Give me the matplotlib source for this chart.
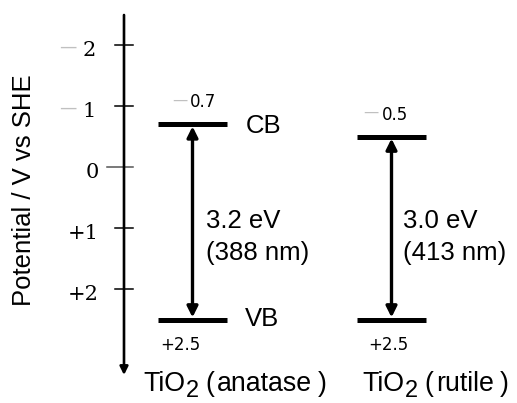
import matplotlib
matplotlib.use("Agg")
import matplotlib.pyplot as plt

# dati
phases = ["anatase", "rutile"]
cb_pot = [-0.7, -0.5]          # V vs SHE
vb_pot = [2.5, 2.5]
gap_ev = [3.2, 3.0]
gap_nm = [388, 413]
ticks = [-2, -1, 0, 1, 2]
tick_labels = ["2", "1", "0", "+1", "+2"]

# impaginazione (pixel)
bar_left = [158, 357]
bar_w = 69
cb_dash_x = [172, 363]
cb_num_x = [190, 382]
vb_num_x = [160, 368]
gap_x = [206, 403]
name_x = [143, 362]

SANS = ["Liberation Sans", "DejaVu Sans"]
PX = 61.0      # pixel per volt
Y0 = 167.0     # pixel dello zero
FS_NAME = 19.3


def dv(px):
    """offset in pixel -> volt"""
    return px / PX


fig = plt.figure(figsize=(5.17, 4.03), dpi=100)
ax = fig.add_axes([0, 0, 1, 1])
ax.set_xlim(0, 517)
ax.set_ylim((403 - Y0) / PX, -Y0 / PX)
ax.axis("off")


def width(txt):
    fig.canvas.draw()
    return txt.get_window_extent().width


# asse verticale con freccia
ax.annotate("", xy=(124, dv(375 - Y0)), xytext=(124, dv(15 - Y0)),
            arrowprops=dict(arrowstyle="-|>", color="black", lw=1.9,
                            mutation_scale=12, shrinkA=0, shrinkB=0))
for t, lab in zip(ticks, tick_labels):
    x0 = 107 if t == 0 else 115
    ax.plot([x0, 133], [t, t], color="black" if t != 0 else "#555555",
            lw=1.1)
    if t < 0:
        ax.text(77, t + dv(7), "—", ha="right", va="baseline",
                color="#c0c0c0", fontsize=12.5, family="DejaVu Sans")
        ax.text(96, t + dv(11), lab, ha="right", va="baseline",
                fontsize=15, family="DejaVu Serif")
    else:
        ax.text(99, t + dv(11), lab, ha="right", va="baseline",
                fontsize=15, family="DejaVu Serif")

ax.text(24, dv(190 - Y0), "Potential / V vs SHE", rotation=90, ha="center",
        va="center", fontsize=18.5, family=SANS)

for i, ph in enumerate(phases):
    xl = bar_left[i]
    xc = xl + bar_w / 2
    ax.plot([xl, xl + bar_w], [cb_pot[i], cb_pot[i]], color="black",
            lw=3.6, solid_capstyle="butt")
    ax.plot([xl, xl + bar_w], [vb_pot[i], vb_pot[i]], color="black",
            lw=3.6, solid_capstyle="butt")
    ax.annotate("", xy=(xc, vb_pot[i]), xytext=(xc, cb_pot[i]),
                arrowprops=dict(arrowstyle="<|-|>", color="black", lw=2.4,
                                mutation_scale=16, shrinkA=1.5,
                                shrinkB=1.5))
    # valori dei livelli
    ax.text(cb_dash_x[i], cb_pot[i] - dv(20), "—", ha="left",
            va="baseline", color="#c0c0c0", fontsize=11,
            family="DejaVu Sans")
    ax.text(cb_num_x[i], cb_pot[i] - dv(17), "%.1f" % abs(cb_pot[i]),
            ha="left", va="baseline", fontsize=12, family="DejaVu Sans")
    ax.text(vb_num_x[i], vb_pot[i] + dv(31), "+%.1f" % vb_pot[i],
            ha="left", va="baseline", fontsize=12, family="DejaVu Sans")
    # band gap
    ax.text(gap_x[i], dv(228 - Y0), "%.1f eV" % gap_ev[i], ha="left",
            va="baseline", fontsize=18.5, family=SANS)
    ax.text(gap_x[i], dv(260 - Y0), "(%d nm)" % gap_nm[i], ha="left",
            va="baseline", fontsize=18.5, family=SANS)
    # nome della fase: TiO + pedice 2 + (nome)
    x = name_x[i]
    yb = dv(391 - Y0)
    t1 = ax.text(x, yb, "TiO", ha="left", va="baseline", fontsize=FS_NAME,
                 family=SANS)
    x += width(t1) + 1
    t2 = ax.text(x, yb + dv(6), "2", ha="left", va="baseline",
                 fontsize=17, family=SANS)
    x += width(t2) + 6
    t3 = ax.text(x, yb, "(", ha="left", va="baseline", fontsize=FS_NAME,
                 family=SANS)
    x += width(t3) + 3
    t4 = ax.text(x, yb, ph, ha="left", va="baseline", fontsize=FS_NAME,
                 family=SANS)
    x += width(t4) + 6
    ax.text(x, yb, ")", ha="left", va="baseline", fontsize=FS_NAME,
            family=SANS)

ax.text(246, cb_pot[0] + dv(9), "CB", ha="left", va="baseline",
        fontsize=18.5, family=SANS)
ax.text(245, vb_pot[0] + dv(7), "VB", ha="left", va="baseline",
        fontsize=18.5, family=SANS)

fig.savefig("out.png", dpi=100)
